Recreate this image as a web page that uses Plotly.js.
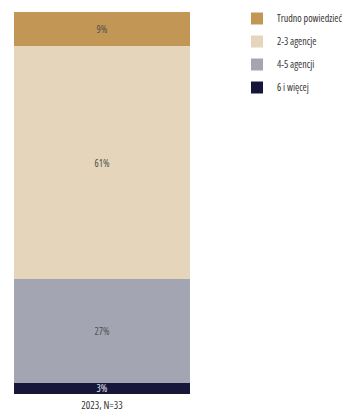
<!DOCTYPE html>
<html><head><meta charset="utf-8">
<script src="https://cdn.plot.ly/plotly-3.0.1.min.js"></script>
<style>body{margin:0;padding:0;background:#fff}#chart{width:342px;height:412px}#chart text{font-stretch:condensed}</style>
</head><body><div id="chart"></div>
<script>
const categories = ["2023, N=33"];
const seriesNames = ["6 i więcej", "4-5 agencji", "2-3 agencje", "Trudno powiedzieć"];
const v6 = [3];
const v45 = [27];
const v23 = [61];
const vTrudno = [9];
const seriesValues = [v6, v45, v23, vTrudno];
const colors = ["#16163A", "#A4A5B2", "#E5D5BA", "#C29655"];
const textColors = ["#E8E8EE", "#505050", "#505050", "#505050"];
const FONT = "'Open Sans', 'Roboto Condensed', sans-serif";

const traces = seriesNames.map((n, i) => ({
  type: "bar",
  name: n,
  x: categories,
  y: seriesValues[i],
  marker: {color: colors[i], line: {width: 0}},
  text: seriesValues[i].map(v => v + "%"),
  textposition: "inside",
  insidetextanchor: "middle",
  textangle: 0,
  constraintext: "none",
  textfont: {family: FONT, size: 10, color: textColors[i]},
  legendrank: seriesNames.length - i,
  legendgroup: "g" + i,
  hoverinfo: "none"
}));

const layout = {
  width: 342, height: 412,
  margin: {l: 14, r: 152, t: 12, b: 18, autoexpand: false},
  barmode: "stack",
  bargap: 0,
  paper_bgcolor: "#fff", plot_bgcolor: "#fff",
  font: {family: FONT, size: 10, color: "#333333"},
  uniformtext: {minsize: 10, mode: "show"},
  xaxis: {range: [-0.5, 0.5], showgrid: false, zeroline: false, showline: false, ticks: "", ticklabelstandoff: 3, tickfont: {family: FONT, size: 10.5, color: "#333333"}, fixedrange: true},
  yaxis: {range: [0, 100], visible: false, fixedrange: true},
  showlegend: true,
  legend: {x: (237 - 14) / 176, xanchor: "left", y: 1 + 8 / 382, yanchor: "top", traceorder: "grouped", tracegroupgap: 4, font: {family: FONT, size: 10, color: "#333333"}, itemwidth: 30, bgcolor: "rgba(0,0,0,0)"}
};
Plotly.newPlot("chart", traces, layout, {staticPlot: true, displayModeBar: false});
</script>
</body></html>
